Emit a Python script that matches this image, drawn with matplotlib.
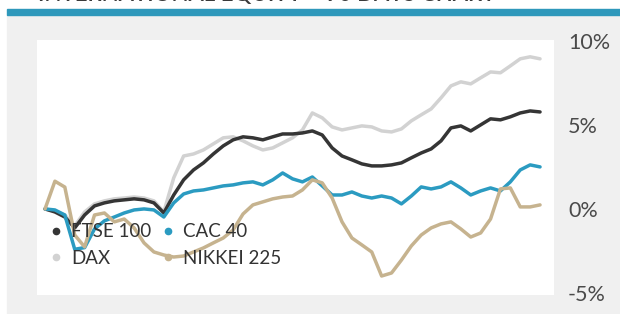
import matplotlib
matplotlib.use('Agg')
import matplotlib.pyplot as plt
from matplotlib.lines import Line2D
from matplotlib.patches import Rectangle

plt.rcParams['font.family'] = ['Lato', 'DejaVu Sans']

title = 'INTERNATIONAL EQUITY – 90 DAYS CHART'
series_names = ['FTSE 100', 'DAX', 'CAC 40', 'NIKKEI 225']
y_ticks = [-5, 0, 5, 10]
y_tick_labels = ['-5%', '0%', '5%', '10%']

# cumulative gain in %, one value per trading day
ftse = [0.00, -0.18, -0.48, -1.13, -0.36, 0.18, 0.36, 0.48, 0.54, 0.60,
        0.54, 0.36, -0.24, 0.83, 1.73, 2.32, 2.74, 3.27, 3.75, 4.11,
        4.29, 4.23, 4.11, 4.29, 4.46, 4.46, 4.52, 4.64, 4.40, 3.63,
        3.15, 2.92, 2.68, 2.56, 2.56, 2.62, 2.74, 3.04, 3.33, 3.57,
        4.05, 4.82, 4.94, 4.64, 5.00, 5.36, 5.30, 5.48, 5.71, 5.83, 5.77]
dax = [0.00, -0.12, -0.36, -1.01, -0.18, 0.30, 0.48, 0.60, 0.65, 0.71,
       0.65, 0.48, -0.18, 1.85, 3.15, 3.27, 3.51, 3.87, 4.23, 4.29,
       4.05, 3.75, 3.51, 3.63, 3.93, 4.23, 4.70, 5.71, 5.42, 4.88,
       4.70, 4.82, 4.94, 4.88, 4.64, 4.58, 4.76, 5.24, 5.60, 5.95,
       6.61, 7.32, 7.56, 7.44, 7.80, 8.15, 8.10, 8.51, 8.93, 9.05, 8.93]
cac = [0.00, -0.06, -0.36, -2.40, -2.30, -1.19, -0.71, -0.48, -0.24, -0.06,
       0.00, -0.06, -0.48, 0.36, 0.89, 1.07, 1.13, 1.25, 1.37, 1.43,
       1.55, 1.61, 1.43, 1.73, 2.14, 1.79, 1.61, 1.90, 1.37, 0.83,
       0.83, 1.01, 0.77, 0.65, 0.77, 0.65, 0.30, 0.77, 1.31, 1.19,
       1.31, 1.61, 1.25, 0.83, 1.07, 1.25, 1.07, 1.61, 2.32, 2.62, 2.50]
nikkei = [0.00, 1.65, 1.30, -1.55, -2.26, -0.36, -0.24, -0.77, -0.60, -1.13,
          -2.02, -2.56, -2.74, -2.86, -2.80, -2.56, -2.32, -2.02, -1.73, -1.25,
          -0.30, 0.24, 0.42, 0.60, 0.71, 0.77, 1.13, 1.73, 1.55, 0.65,
          -0.77, -1.73, -2.14, -2.56, -3.99, -3.81, -3.04, -2.20, -1.55, -1.13,
          -0.89, -0.77, -1.19, -1.67, -1.43, -0.60, 1.19, 1.25, 0.12, 0.12, 0.24]

colors = {'FTSE 100': '#353535', 'DAX': '#d2d2d2', 'CAC 40': '#2b9bc1', 'NIKKEI 225': '#c6b38f'}
values = {'FTSE 100': ftse, 'DAX': dax, 'CAC 40': cac, 'NIKKEI 225': nikkei}

W, H = 620, 314
fig = plt.figure(figsize=(W / 100, H / 100), dpi=100)
fig.patch.set_facecolor('white')

# grey panel and blue header bar, kept behind the axes
fig.patches.append(Rectangle((7 / W, 0), 1, (H - 15) / H, transform=fig.transFigure,
                             color='#f0f0f0', zorder=-2))
fig.patches.append(Rectangle((7 / W, (H - 15) / H), 1, 6 / H, transform=fig.transFigure,
                             color='#2e98bb', zorder=-2))
fig.text(267 / W, 1 - 1 / H, title, ha='center', va='baseline', fontsize=16,
         color='#3a3a3a', fontweight='semibold')

ax = fig.add_axes([37 / W, 19 / H, 517 / W, 255 / H])
ax.set_facecolor('white')
x = list(range(len(ftse)))
for name in ['DAX', 'FTSE 100', 'CAC 40', 'NIKKEI 225']:
    ax.plot(x, values[name], color=colors[name], lw=2.5, solid_joinstyle='round',
            solid_capstyle='round')

ax.set_xlim(-0.81, 51.41)
ax.set_ylim(-5.12, 10.05)
ax.set_xticks([])
ax.yaxis.tick_right()
ax.set_yticks(y_ticks)
ax.set_yticklabels(y_tick_labels)
ax.tick_params(axis='y', length=0, pad=10, labelsize=15.5, labelcolor='#4a4a4a')
for lab in ax.get_yticklabels():
    lab.set_horizontalalignment('left')
for s in ax.spines.values():
    s.set_visible(False)

handles = [Line2D([], [], marker='o', ls='none', ms=4.5, color=colors[n])
           for n in ['FTSE 100', 'DAX', 'CAC 40', 'NIKKEI 225']]
ax.legend(handles, ['FTSE 100', 'DAX', 'CAC 40', 'NIKKEI 225'], ncol=2,
          loc='upper left', bbox_to_anchor=(0.012, 0.31), frameon=False,
          fontsize=13.5, labelcolor='#333333', handlelength=0.6, handletextpad=0.5,
          columnspacing=0.6, labelspacing=0.5, borderaxespad=0)

fig.savefig('out.png', dpi=100)
